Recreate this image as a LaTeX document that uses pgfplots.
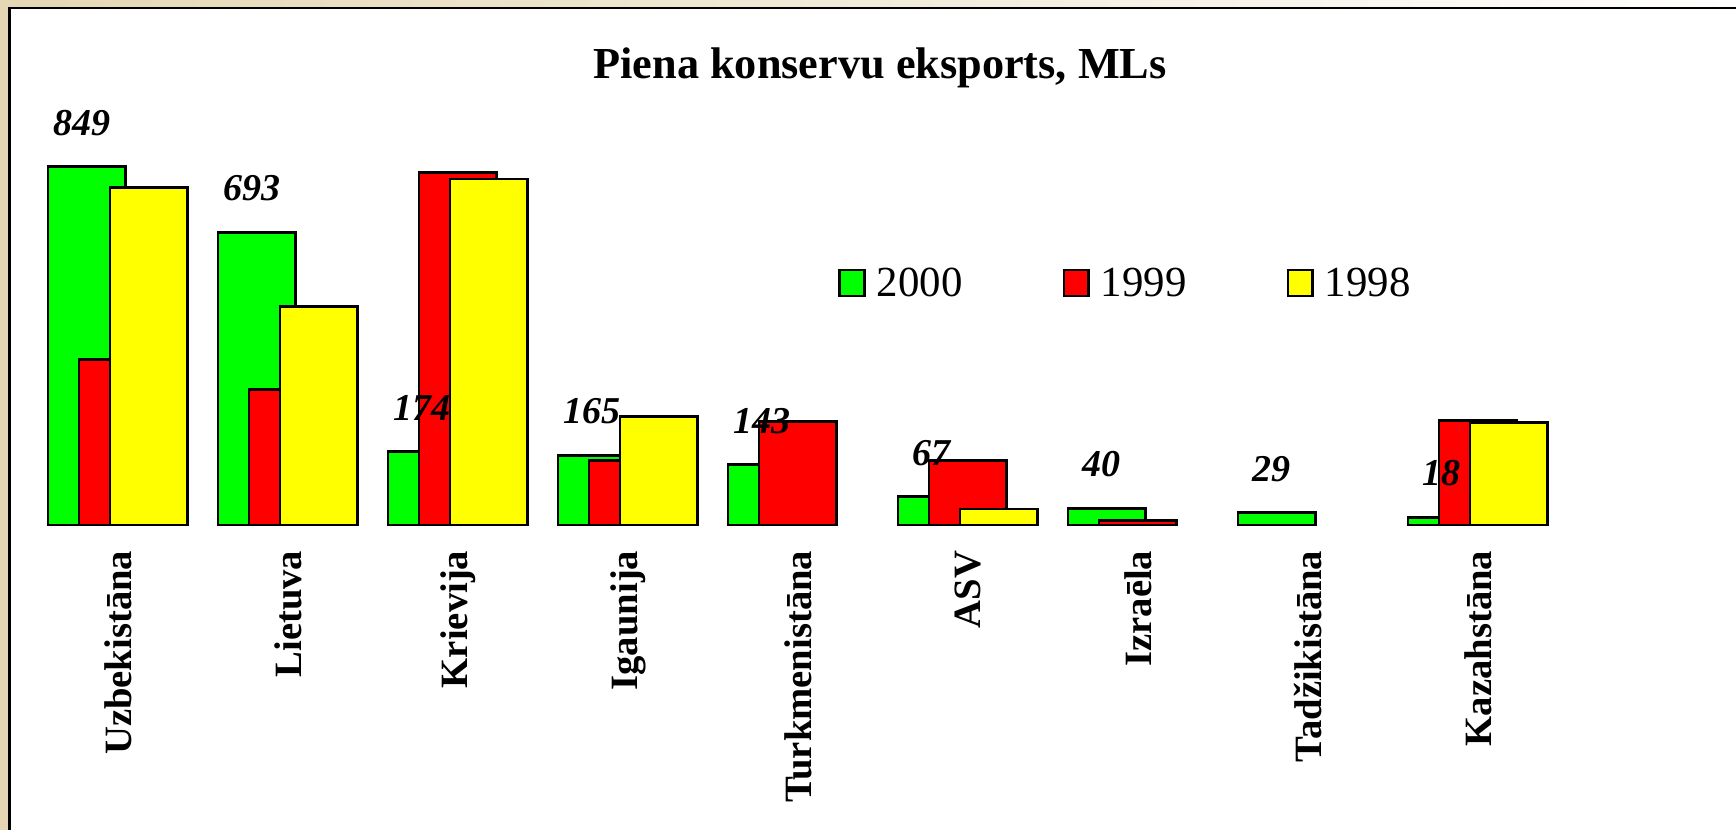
\documentclass[border=0pt]{standalone}
\usepackage{pgfplots}
\pgfplotsset{compat=1.18}
\usepackage{fontspec}
\setmainfont{Liberation Serif}

\definecolor{barGreen}{RGB}{0,255,0}
\definecolor{barRed}{RGB}{255,0,0}
\definecolor{barYellow}{RGB}{255,255,0}
\definecolor{paper}{RGB}{229,215,180}

\begin{document}
\begin{tikzpicture}
% page frame: 1 px of the reference = 0.1 mm
\useasboundingbox (0,-8.30) rectangle (17.36,0);
\fill[paper] (0,-8.30) rectangle (17.36,0);
\shade[left color=paper, right color=white] (0,-0.08) rectangle (17.36,0);
\fill[white] (0.095,-8.30) rectangle (17.36,-0.08);
\draw[line width=0.7pt] (0.095,-8.30) -- (0.095,-0.08) -- (17.36,-0.08);

\node[font=\fontsize{12.6}{15}\selectfont\bfseries, anchor=base]
  at (8.80,-0.78) {Piena konservu eksports, MLs};

\begin{axis}[
    at={(0.329cm,-5.25cm)}, anchor=south west,
    x=1.7cm, y=0.042203mm,
    xmin=-0.5, xmax=8.5, ymin=0, ymax=900,
    clip=false,
    axis line style={draw=none},
    tick style={draw=none},
    ytick=\empty,
    xtick={0,...,8},
    xticklabels={Uzbekistāna, Lietuva, Krievija, Igaunija, Turkmenistāna,
                 ASV, Izraēla, Tadžikistāna, Kazahstāna},
    xticklabel style={rotate=90, anchor=east, inner sep=0pt,
                      font=\fontsize{11}{12}\selectfont\bfseries},
    xticklabel shift=0.10cm,
    /pgf/number format/assume math mode=true,
    ybar, bar width=0.777cm,
    legend columns=3,
    legend style={
        at={(0.526,0.631)}, anchor=west,
        draw=none, fill=none, inner sep=0pt,
        font=\fontsize{12.2}{14}\selectfont,
        cells={anchor=base west},
        /tikz/every odd column/.append style={column sep=0.04cm},
        /tikz/every even column/.append style={column sep=0.93cm}
    },
    legend image code/.code={
        \draw[#1, line width=0.8pt] (0cm,0.01cm) rectangle (0.245cm,0.27cm);
    },
]

% 2000
\addplot[fill=barGreen, draw=black, line width=0.8pt, bar shift=-0.31cm] coordinates {
    (0,849) (1,693) (2,174) (3,165) (4,143) (5,67) (6,40) (7,29) (8,18)
};
\addlegendentry{2000}

% 1999
\addplot[fill=barRed, draw=black, line width=0.8pt, bar shift=0cm] coordinates {
    (0,393) (1,322) (2,835) (3,152) (4,246) (5,152) (6,10) (8,247)
};
\addlegendentry{1999}

% 1998
\addplot[fill=barYellow, draw=black, line width=0.8pt, bar shift=0.31cm] coordinates {
    (0,800) (1,517) (2,820) (3,257) (5,38) (8,242)
};
\addlegendentry{1998}

% value labels of 2000, drawn last so they sit over the bars
\addplot[fill=none, draw=none, bar shift=-0.31cm, forget plot,
    nodes near coords,
    every node near coord/.append style={anchor=center, yshift=0.44cm, xshift=-0.05cm,
        text=black, font=\fontsize{10.8}{13}\selectfont\bfseries\itshape}] coordinates {
    (0,849) (1,693) (2,174) (3,165) (4,143) (5,67) (6,40) (7,29) (8,18)
};
\end{axis}
\end{tikzpicture}
\end{document}
